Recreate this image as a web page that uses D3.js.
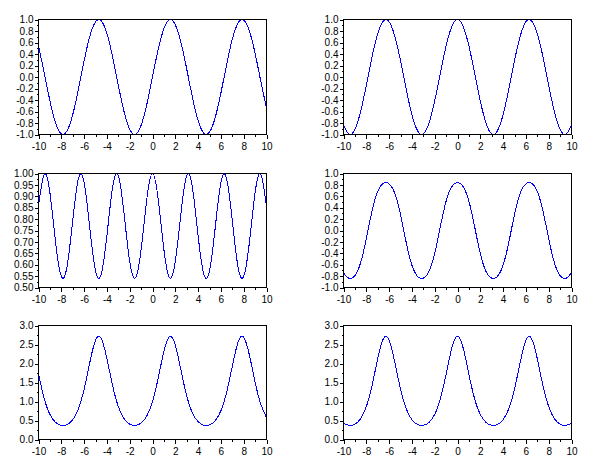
<!DOCTYPE html>
<html><head><meta charset="utf-8">
<script src="https://cdn.jsdelivr.net/npm/d3@7"></script>
<style>
html,body{margin:0;padding:0;background:#fff;}
svg{display:block;}
text{font-family:"Liberation Sans",Arial,sans-serif;font-size:10px;fill:#000;}
</style></head>
<body>
<svg id="chart" width="610" height="460"></svg>
<script>
// x samples
const xValues = d3.range(-10, 10.0001, 0.5);
// series values (one per x sample)
const sinValues = [0.544,0.075,-0.412,-0.798,-0.989,-0.938,-0.657,-0.215,0.279,0.706,0.959,0.978,0.757,0.351,-0.141,-0.598,-0.909,-0.997,-0.841,-0.479,0,0.479,0.841,0.997,0.909,0.598,0.141,-0.351,-0.757,-0.978,-0.959,-0.706,-0.279,0.215,0.657,0.938,0.989,0.798,0.412,-0.075,-0.544];
const cosValues = [-0.839,-0.997,-0.911,-0.602,-0.146,0.347,0.754,0.977,0.960,0.709,0.284,-0.211,-0.654,-0.936,-0.990,-0.801,-0.416,0.071,0.540,0.878,1.000,0.878,0.540,0.071,-0.416,-0.801,-0.990,-0.936,-0.654,-0.211,0.284,0.709,0.960,0.977,0.754,0.347,-0.146,-0.602,-0.911,-0.997,-0.839];
const cosSinValues = [0.856,0.997,0.916,0.698,0.549,0.591,0.792,0.977,0.961,0.761,0.574,0.559,0.727,0.939,0.990,0.826,0.614,0.542,0.666,0.887,1.000,0.887,0.666,0.542,0.614,0.826,0.990,0.939,0.727,0.559,0.574,0.761,0.961,0.977,0.792,0.591,0.549,0.698,0.916,0.997,0.856];
const sinCosValues = [-0.744,-0.840,-0.790,-0.566,-0.145,0.340,0.685,0.829,0.819,0.651,0.280,-0.209,-0.608,-0.806,-0.836,-0.718,-0.404,0.071,0.514,0.769,0.841,0.769,0.514,0.071,-0.404,-0.718,-0.836,-0.806,-0.608,-0.209,0.280,0.651,0.819,0.829,0.685,0.340,-0.145,-0.566,-0.790,-0.840,-0.744];
const expSinValues = [1.723,1.078,0.662,0.450,0.372,0.391,0.518,0.806,1.322,2.025,2.609,2.658,2.131,1.420,0.868,0.550,0.403,0.369,0.431,0.619,1.000,1.615,2.320,2.711,2.483,1.819,1.152,0.704,0.469,0.376,0.383,0.494,0.756,1.240,1.929,2.555,2.690,2.222,1.510,0.928,0.580];
const expCosValues = [0.432,0.369,0.402,0.548,0.865,1.414,2.125,2.655,2.612,2.031,1.328,0.810,0.520,0.392,0.372,0.449,0.660,1.073,1.717,2.405,2.718,2.405,1.717,1.073,0.660,0.449,0.372,0.392,0.520,0.810,1.328,2.031,2.612,2.655,2.125,1.414,0.865,0.548,0.402,0.369,0.432];

// tick labels
const xTicks = [-10,-8,-6,-4,-2,0,2,4,6,8,10];
const yTicksTrig = [-1,-0.8,-0.6,-0.4,-0.2,0,0.2,0.4,0.6,0.8,1];
const yTicksCosSin = [0.5,0.55,0.6,0.65,0.7,0.75,0.8,0.85,0.9,0.95,1];
const yTicksExp = [0,0.5,1,1.5,2,2.5,3];

const panels = [
  {vals: sinValues,    dom: [-1,1],   ticks: yTicksTrig,   fmt: ".1f", col: 0, row: 0},
  {vals: cosValues,    dom: [-1,1],   ticks: yTicksTrig,   fmt: ".1f", col: 1, row: 0},
  {vals: cosSinValues, dom: [0.5,1],  ticks: yTicksCosSin, fmt: ".2f", col: 0, row: 1},
  {vals: sinCosValues, dom: [-1,1],   ticks: yTicksTrig,   fmt: ".1f", col: 1, row: 1},
  {vals: expSinValues, dom: [0,3],    ticks: yTicksExp,    fmt: ".1f", col: 0, row: 2},
  {vals: expCosValues, dom: [0,3],    ticks: yTicksExp,    fmt: ".1f", col: 1, row: 2}
];

const colX = [[38.5,266.5],[343.5,571.5]];
const rowY = [[19.5,134.5],[173.5,287.5],[325.5,439.5]];

const svg = d3.select("#chart");
function mids(arr){const m=[];for(let i=0;i<arr.length-1;i++)m.push((arr[i]+arr[i+1])/2);return m;}
function hyph(spec){const f=d3.format(spec);return v=>f(v).replace("\u2212","-");}

panels.forEach((p,i)=>{
  const [x0,x1] = colX[p.col];
  const [y0,y1] = rowY[p.row];
  const xs = d3.scaleLinear().domain([-10,10]).range([x0,x1]);
  const ys = d3.scaleLinear().domain(p.dom).range([y1,y0]);
  const g = svg.append("g");

  g.append("clipPath").attr("id","clip"+i).append("rect")
    .attr("x",x0).attr("y",y0-0.5).attr("width",x1-x0).attr("height",y1-y0+1);

  const line = d3.line().x((d,j)=>xs(xValues[j])).y(d=>ys(d)).curve(d3.curveNatural);
  g.append("path").datum(p.vals).attr("d",line)
    .attr("fill","none").attr("stroke","#0000ff").attr("stroke-width",1)
    .attr("shape-rendering","crispEdges")
    .attr("clip-path","url(#clip"+i+")");

  // box
  g.append("rect").attr("x",x0).attr("y",y0).attr("width",x1-x0).attr("height",y1-y0)
    .attr("fill","none").attr("stroke","#000").attr("stroke-width",1).attr("shape-rendering","crispEdges");

  // x axis major
  g.append("g").attr("transform",`translate(0,${y1})`)
    .call(d3.axisBottom(xs).tickValues(xTicks).tickSize(4).tickPadding(4).tickFormat(hyph("d")));
  // x minor
  g.append("g").attr("transform",`translate(0,${y1})`)
    .call(d3.axisBottom(xs).tickValues(mids(xTicks)).tickSize(2).tickFormat(""));
  // y axis major
  g.append("g").attr("transform",`translate(${x0},0)`)
    .call(d3.axisLeft(ys).tickValues(p.ticks).tickSize(4).tickPadding(1).tickFormat(hyph(p.fmt)));
  g.append("g").attr("transform",`translate(${x0},0)`)
    .call(d3.axisLeft(ys).tickValues(mids(p.ticks)).tickSize(2).tickFormat(""));
});

svg.selectAll(".domain").remove();
svg.selectAll(".tick line").attr("stroke","#000").attr("shape-rendering","crispEdges");
svg.selectAll(".tick text").attr("fill","#000").style("font-family","'Liberation Sans',Arial,sans-serif").style("font-size","10px");
</script>
</body></html>
